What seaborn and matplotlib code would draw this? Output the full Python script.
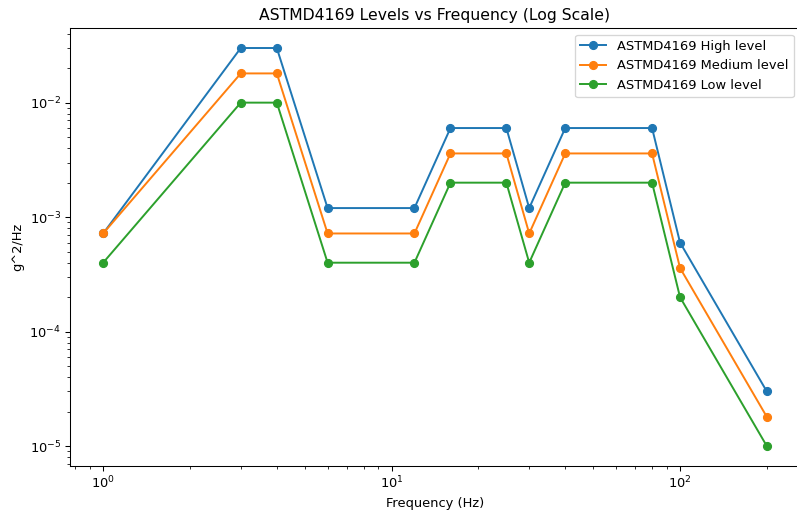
import matplotlib
matplotlib.use("Agg")
import matplotlib.pyplot as plt
import seaborn as sns
import pandas as pd

# ASTM D4169 random vibration profile (Hz vs g^2/Hz)
freq = [1, 3, 4, 6, 12, 16, 25, 30, 40, 80, 100, 200]
high = [0.00072, 0.03, 0.03, 0.0012, 0.0012, 0.006, 0.006, 0.0012, 0.006, 0.006, 0.0006, 0.00003]
medium = [0.00072, 0.018, 0.018, 0.00072, 0.00072, 0.0036, 0.0036, 0.00072, 0.0036, 0.0036, 0.00036, 0.000018]
low = [0.0004, 0.01, 0.01, 0.0004, 0.0004, 0.002, 0.002, 0.0004, 0.002, 0.002, 0.0002, 0.00001]

levels = {
    "ASTMD4169 High level": high,
    "ASTMD4169 Medium level": medium,
    "ASTMD4169 Low level": low,
}
colors = sns.color_palette("tab10", 3)

dpi = 94
fig = plt.figure(figsize=(797 / dpi, 511 / dpi), dpi=dpi)
ax = fig.add_axes([0.0878, 0.088, 0.916, 0.857])

for (name, vals), c in zip(levels.items(), colors):
    df = pd.DataFrame({"freq": freq, "psd": vals})
    sns.lineplot(data=df, x="freq", y="psd", ax=ax, color=c, marker="o",
                 markersize=6, markeredgecolor=c, markeredgewidth=1,
                 linewidth=1.5, label=name)

ax.set_xscale("log")
ax.set_yscale("log")
ax.set_title("ASTMD4169 Levels vs Frequency (Log Scale)")
ax.set_xlabel("Frequency (Hz)")
ax.set_ylabel("g^2/Hz")
ax.legend(loc="upper right")

fig.savefig("out.png", dpi=dpi)
